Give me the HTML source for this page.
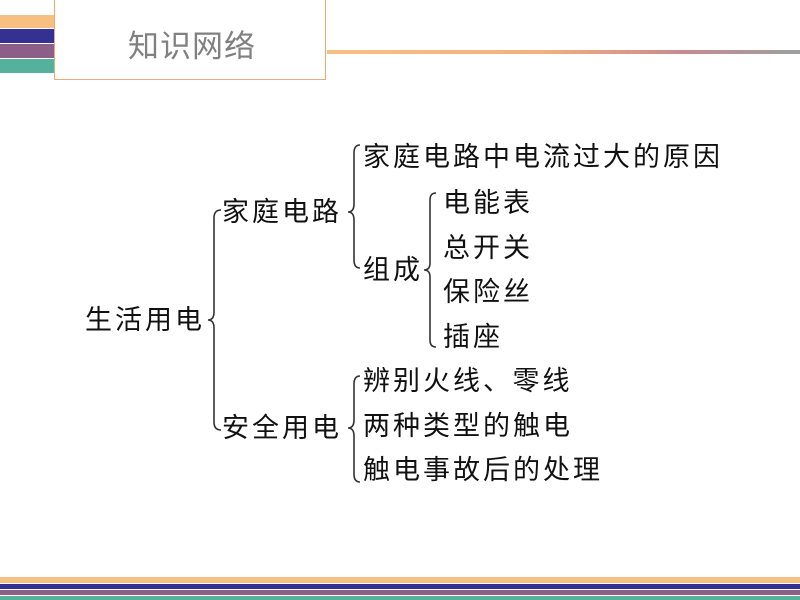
<!DOCTYPE html>
<html><head><meta charset="utf-8"><style>
body{margin:0;width:800px;height:600px;position:relative;background:#fff;overflow:hidden;font-family:"Liberation Sans","Noto Sans CJK SC",sans-serif}
.b{position:absolute;left:0}
.t{position:absolute;font-size:27px;letter-spacing:3px;color:#111;line-height:30px;white-space:nowrap}
</style></head><body>
<div class="b" style="top:15px;width:54px;height:13px;background:#f6c083"></div>
<div class="b" style="top:29px;width:54px;height:14px;background:#343193"></div>
<div class="b" style="top:44px;width:54px;height:14px;background:#8c5e88"></div>
<div class="b" style="top:59px;width:54px;height:14px;background:#55b09c"></div>
<div style="position:absolute;left:54px;top:-2px;width:270px;height:81px;border:1.5px solid #f0a878;border-top:none;background:#fff"></div>
<div style="position:absolute;left:128px;top:21px;font-size:31px;color:#808080;letter-spacing:1px">知识网络</div>
<div style="position:absolute;left:327px;top:50px;width:473px;height:4px;background:linear-gradient(90deg,#f6c083 0%,#f4b07e 45%,#c88a90 75%,#9aa0a0 100%)"></div>
<div class="b" style="top:577px;width:800px;height:6px;background:#f6c083"></div>
<div class="b" style="top:584px;width:800px;height:5px;background:#343193"></div>
<div class="b" style="top:590px;width:800px;height:5px;background:#8c5e88"></div>
<div class="b" style="top:596px;width:800px;height:4px;background:#55b09c"></div>
<svg style="position:absolute;left:0;top:0" width="800" height="600">
<g fill="none" stroke="#333" stroke-width="1.6">
<path d="M221,210 Q214,210 214,218 L214,312 Q214,320 208,320 Q214,320 214,328 L214,422 Q214,430 221,430"/>
<path d="M360,145 Q354,145 354,153 L354,204 Q354,212 348,212 Q354,212 354,220 L354,260 Q354,268 360,268"/>
<path d="M436,193 Q430,193 430,200 L430,263 Q430,270 424,270 Q430,270 430,277 L430,340 Q430,347 436,347"/>
<path d="M360,376 Q354,376 354,384 L354,420 Q354,428 348,428 Q354,428 354,436 L354,474 Q354,482 360,482"/>
</g></svg>
<div class="t" style="left:85px;top:305px">生活用电</div>
<div class="t" style="left:222px;top:197px">家庭电路</div>
<div class="t" style="left:222px;top:413px">安全用电</div>
<div class="t" style="left:363px;top:142px">家庭电路中电流过大的原因</div>
<div class="t" style="left:363px;top:255px">组成</div>
<div class="t" style="left:443px;top:188px">电能表</div>
<div class="t" style="left:443px;top:233px">总开关</div>
<div class="t" style="left:443px;top:277px">保险丝</div>
<div class="t" style="left:443px;top:322px">插座</div>
<div class="t" style="left:363px;top:366px">辨别火线<span style="letter-spacing:-8px">、</span>&nbsp;零线</div>
<div class="t" style="left:363px;top:411px">两种类型的触电</div>
<div class="t" style="left:363px;top:455px">触电事故后的处理</div>
</body></html>
